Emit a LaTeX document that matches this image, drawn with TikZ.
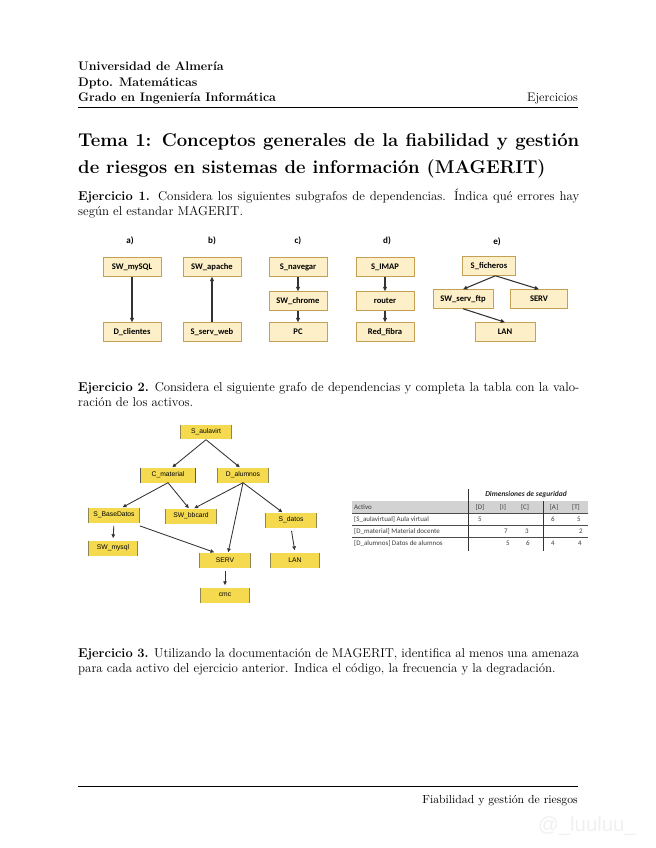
\documentclass[tikz,border=0pt]{standalone}
\usepackage{fontspec}
\newfontfamily\carl{Carlito}
\newfontfamily\arl{Liberation Sans}
\usetikzlibrary{arrows.meta}
\definecolor{boxfill}{RGB}{253,240,200}
\definecolor{boxline}{RGB}{196,160,84}
\definecolor{ybox}{RGB}{245,218,80}
\definecolor{hdrgray}{RGB}{210,210,210}
\definecolor{tabtext}{RGB}{60,60,60}
\tikzset{
  hdr/.style={anchor=base west, inner sep=0pt, font=\fontsize{11.6}{14.5}\selectfont\bfseries},
  para/.style={anchor=base west, inner sep=0pt, text width=468pt, align=justify, font=\fontsize{12}{14.2}\selectfont},
  ebox/.style={draw=boxline, fill=boxfill, line width=0.7pt, minimum width=54pt, minimum height=17.5pt, inner sep=1pt, font=\carl\bfseries\fontsize{8}{9}\selectfont},
  elabel/.style={inner sep=0pt, font=\carl\bfseries\fontsize{8.5}{9}\selectfont},
  earr/.style={-{Triangle[length=4pt,width=3.6pt]}, line width=1pt, draw=black!80},
  ybox/.style={fill=ybox, minimum width=48pt, minimum height=14pt, inner sep=1pt, font=\arl\fontsize{6.3}{7}\selectfont,
    path picture={\draw[line width=1.6pt, black!65] (path picture bounding box.north west) -- (path picture bounding box.south west)
      (path picture bounding box.north east) -- (path picture bounding box.south east);}},
  yarr/.style={-{Triangle[length=3.6pt,width=3.2pt]}, line width=0.8pt, draw=black!80},
  tcell/.style={inner sep=0pt, font=\carl\fontsize{6.5}{7}\selectfont, text=tabtext},
}
\begin{document}
\begin{tikzpicture}[x=0.93397pt,y=-0.93397pt]
\useasboundingbox (0,0) rectangle (655,848);

% header
\node[hdr] (h1) at (78,71) {Universidad de Almería};
\node[hdr] (h2) at (78,87) {Dpto. Matemáticas};
\node[hdr] (h3) at (78,102) {Grado en Ingeniería Informática};
\node[anchor=base east, inner sep=0pt, font=\fontsize{11.6}{14.5}\selectfont] (h4) at (578,102) {Ejercicios};
\draw[line width=0.5pt] (78,107) -- (578,107);

% title
\node[anchor=base west, inner sep=0pt, text width=468pt, align=justify, font=\fontsize{17.28}{24.3}\selectfont\bfseries] (title) at (78,147)
  {Tema 1: Conceptos generales de la fiabilidad y gestión de riesgos en sistemas de información (MAGERIT)};

% exercise 1
\node[para] (p1) at (78,200.5) {\textbf{Ejercicio 1.} Considera los siguientes subgrafos de dependencias. Índica qué errores hay según el estandar MAGERIT.};

\node[elabel] (la) at (130,241) {a)};
\node[elabel] (lb) at (212,241) {b)};
\node[elabel] (lc) at (298,241) {c)};
\node[elabel] (ld) at (387,241) {d)};
\node[elabel] (le) at (497,242) {e)};

\node[ebox] (a1) at (132,267) {SW\_mySQL};
\node[ebox] (a2) at (132,332) {D\_clientes};
\node[ebox] (b1) at (212,267) {SW\_apache};
\node[ebox] (b2) at (212,332) {S\_serv\_web};
\node[ebox] (c1) at (298,267) {S\_navegar};
\node[ebox] (c2) at (298,301) {SW\_chrome};
\node[ebox] (c3) at (298,332) {PC};
\node[ebox] (d1) at (385,267) {S\_IMAP};
\node[ebox] (d2) at (385,301) {router};
\node[ebox] (d3) at (385,332) {Red\_fibra};
\node[ebox, minimum width=50pt] (e1) at (489,266) {S\_ficheros};
\node[ebox, minimum width=56pt] (e2) at (463,299) {SW\_serv\_ftp};
\node[ebox, minimum width=53pt] (e3) at (539,299) {SERV};
\node[ebox, minimum width=56pt] (e4) at (505,332) {LAN};

\draw[earr] (a1) -- (a2);
\draw[earr] (b2) -- (b1);
\draw[earr] (c1) -- (c2);
\draw[earr] (c2) -- (c3);
\draw[earr] (d1) -- (d2);
\draw[earr] (d2) -- (d3);
\draw[earr] ([xshift=6pt]e1.south) -- (e2.north);
\draw[earr] ([xshift=6pt]e1.south) -- (e3.north);
\draw[earr] (e2.south) -- (e4.north);

% exercise 2
\node[para] (p2) at (78,391) {\textbf{Ejercicio 2.} Considera el siguiente grafo de dependencias y completa la tabla con la valo\-ración de los activos.};

\node[ybox] (sa) at (206,432) {S\_aulavirt};
\node[ybox, minimum width=52pt] (cm) at (168,475) {C\_material};
\node[ybox] (da) at (243,475) {D\_alumnos};
\node[ybox] (bd) at (114,515) {S\_BaseDatos};
\node[ybox] (bb) at (191,516) {SW\_bbcard};
\node[ybox] (sd) at (291,520) {S\_datos};
\node[ybox, minimum width=46pt] (my) at (113,548) {SW\_mysql};
\node[ybox] (sv) at (225,560) {SERV};
\node[ybox, minimum width=46pt] (ln) at (295,560) {LAN};
\node[ybox, minimum width=46pt] (cc) at (225,595) {cmc};

\draw[yarr] (sa.south) -- ([xshift=4pt]cm.north);
\draw[yarr] (sa.south) -- ([xshift=-3pt]da.north);
\draw[yarr] (cm.south) -- ([xshift=8pt]bd.north);
\draw[yarr] (cm.south) -- ([xshift=-2pt]bb.north);
\draw[yarr] (da.south) -- ([xshift=3pt]bb.north);
\draw[yarr] (da.south) -- ([xshift=-8pt]sd.north);
\draw[yarr] (da.south) -- ([xshift=3pt]sv.north);
\draw[yarr] ([yshift=-3pt]bd.south east) -- ([xshift=-10pt]sv.north);
\draw[yarr, shorten <=3pt, shorten >=2pt] (bd.south) -- (my.north);
\draw[yarr, shorten <=3pt, shorten >=2pt] (sd.south) -- (ln.north);
\draw[yarr, shorten <=3pt, shorten >=2pt] (sv.south) -- (cc.north);

% table
\fill[hdrgray] (352,501) rectangle (588,513);
\draw[line width=0.5pt, black!70] (352,513) -- (588,513) (352,525) -- (588,525) (352,537) -- (588,537);
\draw[line width=0.5pt, black!80] (468,489) -- (468,551) (543,501) -- (543,551);
\node[tcell, font=\carl\bfseries\itshape\fontsize{7}{8}\selectfont, text=black!85] (dim) at (526,494) {Dimensiones de seguridad};
\node[tcell, anchor=west] (t0) at (354,507) {Activo};
\node[tcell] (tD) at (480,507) {[D]};
\node[tcell] (tI) at (503,507) {[I]};
\node[tcell] (tC) at (525,507) {[C]};
\node[tcell] (tA) at (554,507) {[A]};
\node[tcell] (tT) at (576,507) {[T]};
\node[tcell, anchor=west] (r1) at (354,519) {[S\_aulavirtual] Aula virtual};
\node[tcell] (r1d) at (480,519) {5};
\node[tcell] (r1a) at (553,519) {6};
\node[tcell] (r1t) at (579,519) {5};
\node[tcell, anchor=west] (r2) at (354,531) {[D\_material] Material docente};
\node[tcell] (r2i) at (506,531) {7};
\node[tcell] (r2c) at (527,531) {3};
\node[tcell] (r2t) at (581,531) {2};
\node[tcell, anchor=west] (r3) at (354,543) {[D\_alumnos] Datos de alumnos};
\node[tcell] (r3i) at (508,543) {5};
\node[tcell] (r3c) at (528,543) {6};
\node[tcell] (r3a) at (553,543) {4};
\node[tcell] (r3t) at (580,543) {4};

% exercise 3
\node[para] (p3) at (78,657) {\textbf{Ejercicio 3.} Utilizando la documentación de MAGERIT, identifica al menos una amenaza para cada activo del ejercicio anterior. Indica el código, la frecuencia y la degradación.};

% footer
\draw[line width=0.5pt] (78,786) -- (578,786);
\node[anchor=base east, inner sep=0pt, font=\fontsize{10.95}{13.6}\selectfont] (foot) at (578,803) {Fiabilidad y gestión de riesgos};
\node[inner sep=0pt, font=\arl\fontsize{19}{20}\selectfont, text=black!6] (wm) at (587,826) {@\_luuluu\_};
\end{tikzpicture}
\end{document}
